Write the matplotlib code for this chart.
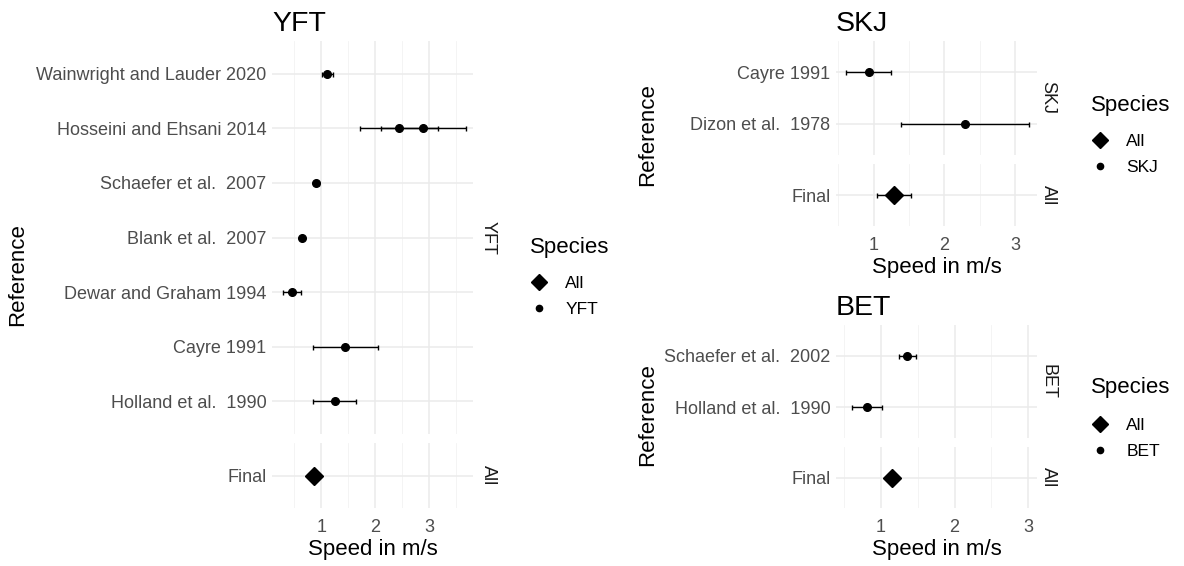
import matplotlib
matplotlib.use("Agg")
import matplotlib.pyplot as plt
from matplotlib.lines import Line2D
from matplotlib.ticker import FixedLocator

plt.rcParams['font.family'] = ['Liberation Sans', 'DejaVu Sans']

# ---- data ----
yft_refs = ["Wainwright and Lauder 2020", "Hosseini and Ehsani 2014", "Hosseini and Ehsani 2014",
            "Schaefer et al.  2007", "Blank et al.  2007", "Dewar and Graham 1994",
            "Cayre 1991", "Holland et al.  1990"]
yft_speed = [1.11, 2.44, 2.89, 0.91, 0.64, 0.46, 1.45, 1.25]
yft_err = [0.10, 0.73, 0.79, 0.05, 0.0, 0.17, 0.61, 0.40]
yft_final_speed = [0.87]
yft_final_err = [0.0]

skj_refs = ["Cayre 1991", "Dizon et al.  1978"]
skj_speed = [0.93, 2.29]
skj_err = [0.32, 0.90]
skj_final_speed = [1.29]
skj_final_err = [0.24]

bet_refs = ["Schaefer et al.  2002", "Holland et al.  1990"]
bet_speed = [1.36, 0.81]
bet_err = [0.12, 0.20]
bet_final_speed = [1.15]
bet_final_err = [0.0]

final_label = ["Final"]
x_ticks = [1, 2, 3]
x_minor = [0.5, 1.5, 2.5, 3.5]

W, H = 1184, 566
fig = plt.figure(figsize=(W / 100, H / 100), dpi=100)

TICK_C = '#4D4D4D'
GRID_C = '#EBEBEB'
TICK_FS = 13
LAB_FS = 16
TITLE_FS = 20.5
LEG_FS = 12.5
LEG_TITLE_FS = 16


def px_axes(l, t, r, b):
    return fig.add_axes([l / W, 1 - b / H, (r - l) / W, (b - t) / H])


def style(ax, xlim, show_x):
    ax.set_xlim(*xlim)
    for s in ax.spines.values():
        s.set_visible(False)
    ax.xaxis.set_major_locator(FixedLocator(x_ticks))
    ax.xaxis.set_minor_locator(FixedLocator(x_minor))
    ax.grid(True, which='major', color=GRID_C, lw=1.1, zorder=0)
    ax.grid(True, which='minor', axis='x', color='#F3F3F3', lw=0.6, zorder=0)
    ax.tick_params(which='both', length=0, labelsize=TICK_FS, labelcolor=TICK_C, pad=4)
    ax.tick_params(axis='x', pad=8)
    if not show_x:
        ax.set_xticklabels([])
    ax.set_axisbelow(True)


def draw_panel(ax, refs, speed, err, marker, ms, label):
    cats = list(dict.fromkeys(refs))
    n = len(cats)
    ypos = [n - 1 - cats.index(r) for r in refs]
    ax.errorbar(speed, ypos, xerr=err, fmt='none', ecolor='black', elinewidth=1.0,
                capsize=1.8, capthick=1.0, zorder=2)
    ax.plot(speed, ypos, linestyle='none', marker=marker, ms=ms, color='black',
            label=label, zorder=3)
    ax.set_ylim(-0.6, n - 0.4)
    ax.set_yticks(range(n))
    ax.set_yticklabels(cats[::-1])


def strip(ax, text, right_px, off):
    x = (right_px + off) / W
    bb = ax.get_position()
    fig.text(x, (bb.y0 + bb.y1) / 2, text, rotation=270, va='center',
             ha='center', fontsize=TICK_FS, color='#1A1A1A')


CIRC_MS = 5.5
DIAM_MS = 9

h_all = Line2D([], [], ls='none', marker='D', ms=8.5, color='black')
h_pt = Line2D([], [], ls='none', marker='o', ms=4.5, color='black')


def legend(x, y_title, y_first, name):
    fig.text(x / W, 1 - y_title / H, 'Species', ha='left', va='center', fontsize=LEG_TITLE_FS)
    fig.legend([h_all, h_pt], ['All', name], loc='upper left',
               bbox_to_anchor=((x - 3) / W, 1 - (y_first - 6) / H), frameon=False,
               fontsize=LEG_FS, handletextpad=0.8, labelspacing=0.6,
               handlelength=1.4, borderaxespad=0, borderpad=0)


# ---- YFT ----
ax1 = px_axes(272, 41, 473, 434)
draw_panel(ax1, yft_refs, yft_speed, yft_err, 'o', CIRC_MS, 'YFT')
style(ax1, (0.09, 3.81), False)
strip(ax1, 'YFT', 473, 15)
ax1.set_title('YFT', loc='left', fontsize=TITLE_FS, pad=7)

ax2 = px_axes(272, 443, 473, 508)
draw_panel(ax2, final_label, yft_final_speed, yft_final_err, 'D', DIAM_MS, 'All')
style(ax2, (0.09, 3.81), True)
strip(ax2, 'All', 473, 15)
ax2.set_xlabel('Speed in m/s', fontsize=LAB_FS, labelpad=2)
fig.text(18 / W, 1 - 275 / H, 'Reference', rotation=90, va='center', ha='center', fontsize=LAB_FS)
legend(530, 248, 282, 'YFT')

# ---- SKJ ----
ax3 = px_axes(836, 41, 1037, 155)
draw_panel(ax3, skj_refs, skj_speed, skj_err, 'o', CIRC_MS, 'SKJ')
style(ax3, (0.47, 3.31), False)
strip(ax3, 'SKJ', 1037, 11)
ax3.set_title('SKJ', loc='left', fontsize=TITLE_FS, pad=7)

ax4 = px_axes(836, 164, 1037, 226)
draw_panel(ax4, final_label, skj_final_speed, skj_final_err, 'D', DIAM_MS, 'All')
style(ax4, (0.47, 3.31), True)
strip(ax4, 'All', 1037, 11)
ax4.set_xlabel('Speed in m/s', fontsize=LAB_FS, labelpad=2)
fig.text(648 / W, 1 - 135 / H, 'Reference', rotation=90, va='center', ha='center', fontsize=LAB_FS)
legend(1091, 105, 140, 'SKJ')

# ---- BET ----
ax5 = px_axes(836, 325, 1037, 438)
draw_panel(ax5, bet_refs, bet_speed, bet_err, 'o', CIRC_MS, 'BET')
style(ax5, (0.39, 3.12), False)
strip(ax5, 'BET', 1037, 11)
ax5.set_title('BET', loc='left', fontsize=TITLE_FS, pad=7)

ax6 = px_axes(836, 447, 1037, 508)
draw_panel(ax6, final_label, bet_final_speed, bet_final_err, 'D', DIAM_MS, 'All')
style(ax6, (0.39, 3.12), True)
strip(ax6, 'All', 1037, 11)
ax6.set_xlabel('Speed in m/s', fontsize=LAB_FS, labelpad=2)
fig.text(648 / W, 1 - 415 / H, 'Reference', rotation=90, va='center', ha='center', fontsize=LAB_FS)
legend(1091, 388, 424, 'BET')

fig.savefig('out.png', dpi=100, facecolor='white')
